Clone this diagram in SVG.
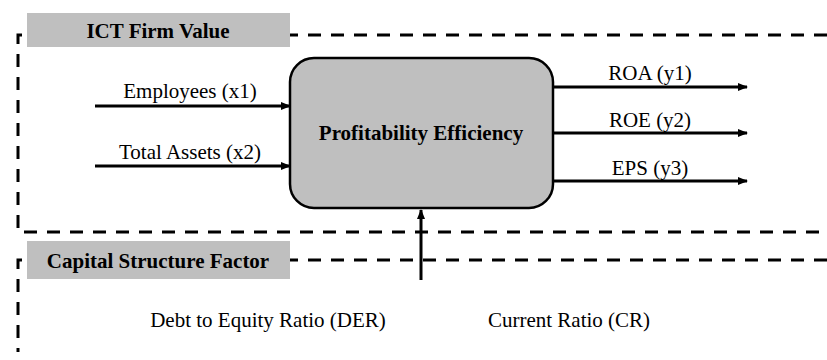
<svg xmlns="http://www.w3.org/2000/svg" width="827" height="360" viewBox="0 0 827 360">
<defs>
<marker id="ah" markerWidth="10" markerHeight="8" refX="9" refY="4" orient="auto" markerUnits="userSpaceOnUse">
<path d="M0,0 L10,4 L0,8 Z" fill="#000"/>
</marker>
<style>
.dash{fill:none;stroke:#000;stroke-width:3;stroke-dasharray:13 10}
.lbl{fill:#bfbfbf}
.t{font-family:"Liberation Serif","Times New Roman",serif;font-size:21px;fill:#000}
.b{font-weight:bold}
.c{stroke:#000;stroke-width:3;fill:none}
</style>
</defs>
<g id="frames">
<path class="dash" d="M827,35 L18,35 L18,232 L827,232"/>
<path class="dash" d="M827,260 L18,260 L18,352"/>
</g>
<g id="ict-label">
<rect class="lbl" x="27" y="13" width="263" height="34"/>
<text class="t b" x="158" y="38" text-anchor="middle">ICT Firm Value</text>
</g>
<g id="csf-label">
<rect class="lbl" x="27" y="241" width="263" height="38"/>
<text class="t b" x="158" y="268" text-anchor="middle">Capital Structure Factor</text>
</g>
<g id="profitability">
<rect x="290" y="58" width="263" height="150" rx="24" fill="#bfbfbf" stroke="#000" stroke-width="2.5"/>
<text class="t b" x="421" y="140" text-anchor="middle">Profitability Efficiency</text>
</g>
<g id="connectors">
<line class="c" x1="95" y1="106" x2="290" y2="106" marker-end="url(#ah)"/>
<line class="c" x1="95" y1="166" x2="290" y2="166" marker-end="url(#ah)"/>
<line class="c" x1="553" y1="87" x2="747" y2="87" marker-end="url(#ah)"/>
<line class="c" x1="553" y1="133" x2="747" y2="133" marker-end="url(#ah)"/>
<line class="c" x1="553" y1="181" x2="747" y2="181" marker-end="url(#ah)"/>
<line class="c" x1="421" y1="280" x2="421" y2="210" marker-end="url(#ah)"/>
</g>
<g id="texts">
<text class="t" x="190" y="98" text-anchor="middle">Employees (x1)</text>
<text class="t" x="190" y="159" text-anchor="middle">Total Assets (x2)</text>
<text class="t" x="650" y="80" text-anchor="middle">ROA (y1)</text>
<text class="t" x="650" y="127" text-anchor="middle">ROE (y2)</text>
<text class="t" x="650" y="175" text-anchor="middle">EPS (y3)</text>
<text class="t" x="268" y="327" text-anchor="middle">Debt to Equity Ratio (DER)</text>
<text class="t" x="569" y="327" text-anchor="middle">Current Ratio (CR)</text>
</g>
</svg>
